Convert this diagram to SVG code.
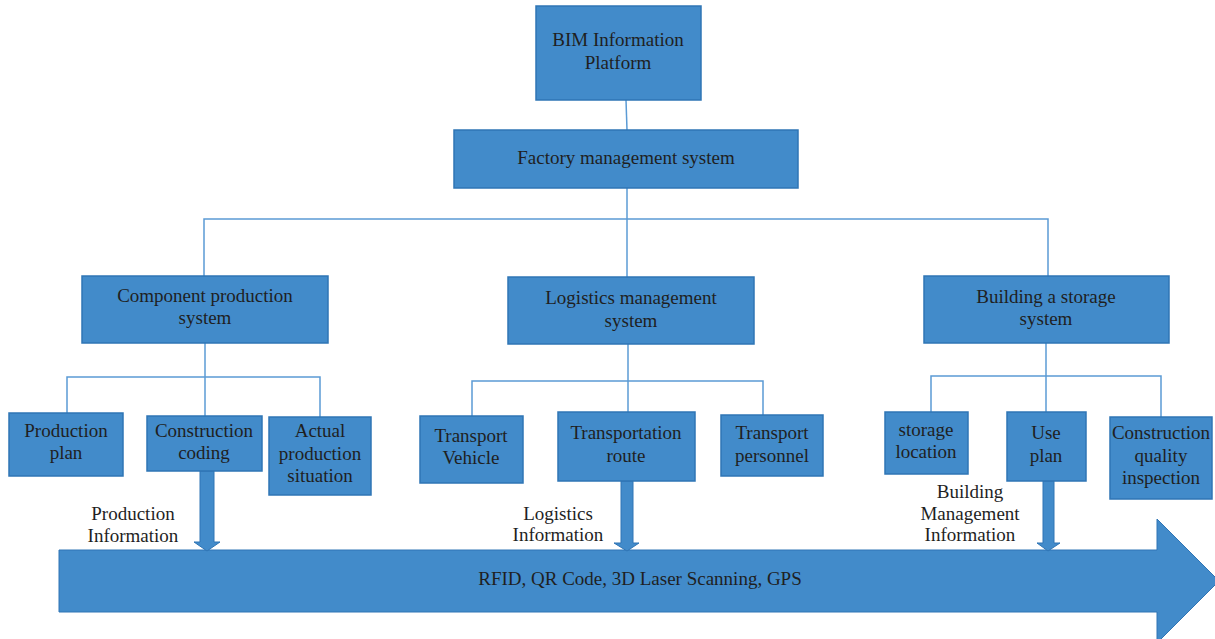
<svg xmlns="http://www.w3.org/2000/svg" width="1215" height="639" viewBox="0 0 1215 639">
  <style>
    .box { fill: #428BCA; stroke: #2F75B5; stroke-width: 1.5; }
    .link { fill: none; stroke: #5B9BD5; stroke-width: 1.5; }
    .flow { fill: #428BCA; stroke: #2F75B5; stroke-width: 1; }
    text { font-family: "Liberation Serif", "Times New Roman", serif; font-size: 19px; fill: #1F1F1F; text-anchor: middle; }
  </style>
  <rect width="1215" height="639" fill="#FFFFFF"/>

  <!-- tree connectors -->
  <g id="connectors">
    <path class="link" d="M626 100 L627 130"/>
    <path class="link" d="M627 188 L627 277"/>
    <path class="link" d="M204 276 L204 219 L1048 219 L1048 276"/>
    <path class="link" d="M205 343 L205 416"/>
    <path class="link" d="M67 413 L67 377 L320 377 L320 417"/>
    <path class="link" d="M628 344 L628 412"/>
    <path class="link" d="M472 416 L472 381 L763 381 L763 415"/>
    <path class="link" d="M1046 343 L1046 412"/>
    <path class="link" d="M931 412 L931 376 L1161 376 L1161 417"/>
  </g>

  <!-- information flow band -->
  <g id="flow-band">
    <path class="flow" d="M59 550 L1157 550 L1157 519 L1219 581 L1157 643 L1157 612 L59 612 Z"/>
    <text x="640" y="585">RFID, QR Code, 3D Laser Scanning, GPS</text>
  </g>

  <!-- down arrows into the band -->
  <g id="flow-arrows">
    <path class="flow" d="M200 471 L214 471 L214 542 L220 542 L207 551 L194 542 L200 542 Z"/>
    <path class="flow" d="M621 481 L633 481 L633 543 L639 543 L627 551 L614 543 L621 543 Z"/>
    <path class="flow" d="M1043 481 L1054 481 L1054 543 L1060 543 L1048 551 L1037 543 L1043 543 Z"/>
  </g>

  <g id="label-production-info">
    <text x="133" y="520">Production</text>
    <text x="133" y="542">Information</text>
  </g>
  <g id="label-logistics-info">
    <text x="558" y="520">Logistics</text>
    <text x="558" y="541">Information</text>
  </g>
  <g id="label-building-info">
    <text x="970" y="498">Building</text>
    <text x="970" y="520">Management</text>
    <text x="970" y="541">Information</text>
  </g>

  <g id="bim-platform">
    <rect class="box" x="536" y="6" width="165" height="94"/>
    <text x="618" y="46">BIM Information</text>
    <text x="618" y="69">Platform</text>
  </g>
  <g id="factory-management">
    <rect class="box" x="454" y="130" width="344" height="58"/>
    <text x="626" y="164">Factory management system</text>
  </g>

  <g id="component-production">
    <rect class="box" x="82" y="276" width="246" height="67"/>
    <text x="205" y="302">Component production</text>
    <text x="205" y="324">system</text>
  </g>
  <g id="logistics-management">
    <rect class="box" x="508" y="277" width="246" height="67"/>
    <text x="631" y="304">Logistics management</text>
    <text x="631" y="327">system</text>
  </g>
  <g id="storage-system">
    <rect class="box" x="924" y="276" width="245" height="67"/>
    <text x="1046" y="303">Building a storage</text>
    <text x="1046" y="325">system</text>
  </g>

  <g id="production-plan">
    <rect class="box" x="9" y="413" width="114" height="63"/>
    <text x="66" y="437">Production</text>
    <text x="66" y="459">plan</text>
  </g>
  <g id="construction-coding">
    <rect class="box" x="147" y="416" width="115" height="55"/>
    <text x="204" y="437">Construction</text>
    <text x="204" y="459">coding</text>
  </g>
  <g id="actual-production">
    <rect class="box" x="269" y="417" width="102" height="78"/>
    <text x="320" y="437">Actual</text>
    <text x="320" y="460">production</text>
    <text x="320" y="482">situation</text>
  </g>

  <g id="transport-vehicle">
    <rect class="box" x="420" y="416" width="103" height="67"/>
    <text x="471" y="442">Transport</text>
    <text x="471" y="464">Vehicle</text>
  </g>
  <g id="transportation-route">
    <rect class="box" x="558" y="412" width="137" height="69"/>
    <text x="626" y="439">Transportation</text>
    <text x="626" y="462">route</text>
  </g>
  <g id="transport-personnel">
    <rect class="box" x="721" y="415" width="102" height="61"/>
    <text x="772" y="439">Transport</text>
    <text x="772" y="462">personnel</text>
  </g>

  <g id="storage-location">
    <rect class="box" x="885" y="412" width="83" height="62"/>
    <text x="926" y="436">storage</text>
    <text x="926" y="458">location</text>
  </g>
  <g id="use-plan">
    <rect class="box" x="1007" y="412" width="79" height="69"/>
    <text x="1046" y="439">Use</text>
    <text x="1046" y="462">plan</text>
  </g>
  <g id="quality-inspection">
    <rect class="box" x="1110" y="417" width="102" height="82"/>
    <text x="1161" y="439">Construction</text>
    <text x="1161" y="462">quality</text>
    <text x="1161" y="484">inspection</text>
  </g>
</svg>
